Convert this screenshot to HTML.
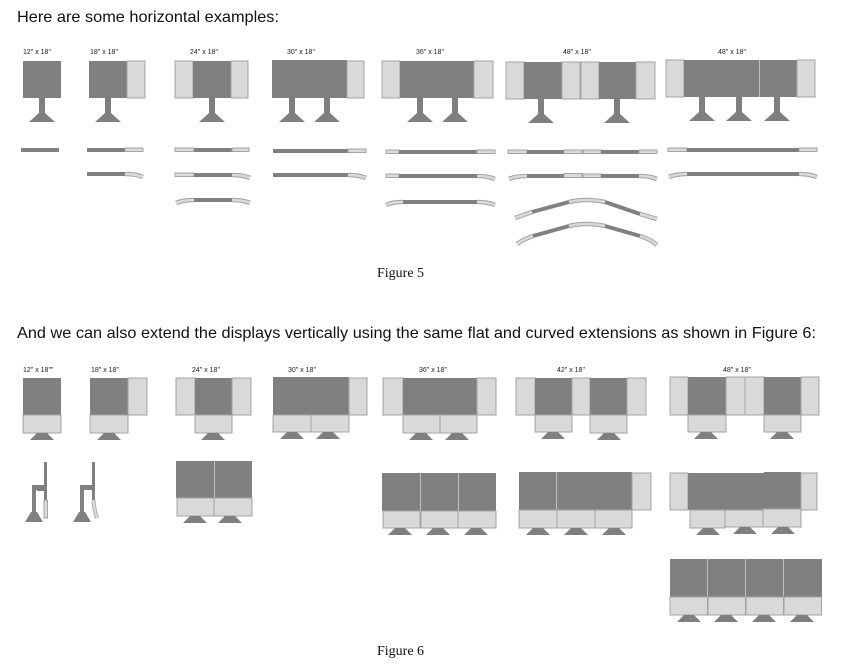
<!DOCTYPE html>
<html><head><meta charset="utf-8"><style>
html,body{margin:0;padding:0;background:#fff;}
svg{display:block;}
.d{fill:#808080;}
.l{fill:#d9d9d9;stroke:#a3a3a3;stroke-width:1;}
.t{fill:#7f7f7f;}
.co{fill:none;stroke:#a3a3a3;stroke-width:4.5;}
.ci{fill:none;stroke:#d9d9d9;stroke-width:2.6;}
.cd{fill:none;stroke:#808080;stroke-width:4;}
.lab{font-family:"Liberation Sans",sans-serif;font-size:7px;fill:#222;}
.h{font-family:"Liberation Sans",sans-serif;font-size:16px;fill:#111;}
.f{font-family:"Liberation Serif",serif;font-size:14px;fill:#111;}
</style></head><body>
<svg width="861" height="668" viewBox="0 0 861 668" xmlns="http://www.w3.org/2000/svg">
<defs>
<g id="ped"><rect x="-3" y="0" width="6" height="16" class="t"/><polygon points="-3,15 3,15 13,24 -13,24" class="t"/></g>
<polygon id="tr" points="-5,0 5,0 12,7 -12,7" class="t"/>
</defs>
<text x="17" y="22" class="h" textLength="262" lengthAdjust="spacingAndGlyphs">Here are some horizontal examples:</text>

<!-- Figure 5 labels -->
<text x="23" y="54" class="lab">12" x 18"</text>
<text x="90" y="54" class="lab">18" x 18"</text>
<text x="190" y="54" class="lab">24" x 18"</text>
<text x="287" y="54" class="lab">30" x 18"</text>
<text x="416" y="54" class="lab">36" x 18"</text>
<text x="563" y="54" class="lab">48" x 18"</text>
<text x="718" y="54" class="lab">48" x 18"</text>

<!-- 12 -->
<rect x="23" y="61" width="38" height="37" class="d"/>
<use href="#ped" x="42" y="98"/>
<!-- 18 -->
<rect x="89" y="61" width="38" height="37" class="d"/><rect x="127" y="61" width="18" height="37" class="l"/>
<use href="#ped" x="108" y="98"/>
<!-- 24 -->
<rect x="175" y="61" width="18" height="37" class="l"/><rect x="193" y="61" width="38" height="37" class="d"/><rect x="231" y="61" width="17" height="37" class="l"/>
<use href="#ped" x="212" y="98"/>
<!-- 30 -->
<rect x="272" y="60" width="75" height="38" class="d"/><rect x="347" y="61" width="17" height="37" class="l"/>
<use href="#ped" x="292" y="98"/><use href="#ped" x="327" y="98"/>
<!-- 36 -->
<rect x="382" y="61" width="18" height="37" class="l"/><rect x="400" y="61" width="74" height="37" class="d"/><rect x="474" y="61" width="19" height="37" class="l"/>
<use href="#ped" x="420" y="98"/><use href="#ped" x="455" y="98"/>
<!-- 48a -->
<rect x="506" y="62" width="18" height="37" class="l"/><rect x="524" y="62" width="38" height="37" class="d"/><rect x="562" y="62" width="18" height="37" class="l"/><rect x="581" y="62" width="18" height="37" class="l"/><rect x="599" y="62" width="37" height="37" class="d"/><rect x="636" y="62" width="19" height="37" class="l"/>
<use href="#ped" x="541" y="99"/><use href="#ped" x="617" y="99"/>
<!-- 48b -->
<rect x="666" y="60" width="18" height="37" class="l"/><rect x="684" y="60" width="75" height="37" class="d"/><rect x="759.5" y="60" width="37.5" height="37" class="d"/><rect x="797" y="60" width="18" height="37" class="l"/>
<use href="#ped" x="702" y="97"/><use href="#ped" x="739" y="97"/><use href="#ped" x="777" y="97"/>

<!-- lines row 1 (y=150) -->
<rect x="21" y="148" width="38" height="4" class="d"/>
<rect x="87" y="148" width="38" height="4" class="d"/><rect x="125" y="148" width="18" height="3.5" class="l"/>
<rect x="175" y="148" width="19" height="3.5" class="l"/><rect x="194" y="148" width="38" height="4" class="d"/><rect x="232" y="148" width="17" height="3.5" class="l"/>
<rect x="273" y="149" width="75" height="4" class="d"/><rect x="348" y="149" width="18" height="3.5" class="l"/>
<rect x="386" y="150" width="13" height="3.5" class="l"/><rect x="399" y="150" width="78" height="4" class="d"/><rect x="477" y="150" width="18" height="3.5" class="l"/>
<rect x="508" y="150" width="19" height="3.5" class="l"/><rect x="527" y="150" width="37" height="4" class="d"/><rect x="564" y="150" width="18" height="3.5" class="l"/><rect x="583" y="150" width="18" height="3.5" class="l"/><rect x="601" y="150" width="38" height="4" class="d"/><rect x="639" y="150" width="18" height="3.5" class="l"/>
<rect x="668" y="148" width="19" height="3.5" class="l"/><rect x="687" y="148" width="112" height="4" class="d"/><rect x="799" y="148" width="18" height="3.5" class="l"/>

<!-- lines row 2 (y=175) -->
<rect x="87" y="172" width="38" height="4" class="d"/>
<path d="M125,174 Q136,174 143,177" class="co"/><path d="M125,174 Q136,174 143,177" class="ci"/>
<rect x="175" y="173" width="19" height="3.5" class="l"/><rect x="194" y="173" width="38" height="4" class="d"/>
<path d="M232,175 Q243,175 250,178" class="co"/><path d="M232,175 Q243,175 250,178" class="ci"/>
<rect x="273" y="173" width="75" height="4" class="d"/>
<path d="M348,175 Q359,175 366,178" class="co"/><path d="M348,175 Q359,175 366,178" class="ci"/>
<rect x="386" y="174" width="13" height="3.5" class="l"/><rect x="399" y="174" width="78" height="4" class="d"/>
<path d="M477,176 Q488,176 495,179" class="co"/><path d="M477,176 Q488,176 495,179" class="ci"/>
<path d="M527,176 Q516,176 509,179" class="co"/><path d="M527,176 Q516,176 509,179" class="ci"/>
<rect x="527" y="174" width="37" height="4" class="d"/><rect x="564" y="173.5" width="18" height="4" class="l"/><rect x="583" y="174" width="18" height="3.5" class="l"/><rect x="601" y="174" width="38" height="4" class="d"/>
<path d="M639,176 Q650,176 657,179" class="co"/><path d="M639,176 Q650,176 657,179" class="ci"/>
<path d="M687,174 Q676,174 669,177" class="co"/><path d="M687,174 Q676,174 669,177" class="ci"/>
<rect x="687" y="172" width="112" height="4" class="d"/>
<path d="M799,174 Q810,174 817,177" class="co"/><path d="M799,174 Q810,174 817,177" class="ci"/>

<!-- lines row 3 (y=200) -->
<path d="M194,200 Q183,200 176,203" class="co"/><path d="M194,200 Q183,200 176,203" class="ci"/>
<rect x="194" y="198" width="38" height="4" class="d"/>
<path d="M232,200 Q243,200 250,203" class="co"/><path d="M232,200 Q243,200 250,203" class="ci"/>
<path d="M403,202 Q392,202 386,205" class="co"/><path d="M403,202 Q392,202 386,205" class="ci"/>
<rect x="403" y="200" width="74" height="4" class="d"/>
<path d="M477,202 Q488,202 495,205" class="co"/><path d="M477,202 Q488,202 495,205" class="ci"/>

<!-- arches -->
<g>
<path d="M515,218 L532,212" class="co"/><path d="M515,218 L532,212" class="ci"/>
<path d="M532,212 L569,202" class="cd"/>
<path d="M569,202 Q578,200 587,200 Q596,200 605,202" class="co"/><path d="M569,202 Q578,200 587,200 Q596,200 605,202" class="ci"/>
<path d="M605,202 L640,214" class="cd"/>
<path d="M640,214 L657,219" class="co"/><path d="M640,214 L657,219" class="ci"/>
</g>
<g>
<path d="M517,244 Q524,239 533,236" class="co"/><path d="M517,244 Q524,239 533,236" class="ci"/>
<path d="M533,236 L569,226" class="cd"/>
<path d="M569,226 Q578,224 587,224 Q596,224 605,226" class="co"/><path d="M569,226 Q578,224 587,224 Q596,224 605,226" class="ci"/>
<path d="M605,226 L640,236" class="cd"/>
<path d="M640,236 Q650,239 657,245" class="co"/><path d="M640,236 Q650,239 657,245" class="ci"/>
</g>

<text x="377" y="277" class="f">Figure 5</text>

<text x="17" y="338" class="h" textLength="799" lengthAdjust="spacingAndGlyphs">And we can also extend the displays vertically using the same flat and curved extensions as shown in Figure 6:</text>

<!-- Figure 6 labels -->
<text x="23" y="372" class="lab">12" x 18""</text>
<text x="91" y="372" class="lab">18" x 18"</text>
<text x="192" y="372" class="lab">24" x 18"</text>
<text x="288" y="372" class="lab">30" x 18"</text>
<text x="419" y="372" class="lab">36" x 18"</text>
<text x="557" y="372" class="lab">42" x 18"</text>
<text x="723" y="372" class="lab">48" x 18"</text>

<!-- 12 -->
<rect x="23" y="378" width="38" height="37" class="d"/><rect x="23" y="415" width="38" height="18" class="l"/>
<use href="#tr" x="42" y="433"/>
<!-- 18 -->
<rect x="90" y="378" width="38" height="37" class="d"/><rect x="128" y="378" width="19" height="37" class="l"/><rect x="90" y="415" width="38" height="18" class="l"/>
<use href="#tr" x="109" y="433"/>
<!-- 24 -->
<rect x="176" y="378" width="19" height="37" class="l"/><rect x="195" y="378" width="37" height="37" class="d"/><rect x="232" y="378" width="19" height="37" class="l"/><rect x="195" y="415" width="37" height="18" class="l"/>
<use href="#tr" x="213" y="433"/>
<!-- 30 -->
<rect x="273" y="377" width="76" height="38" class="d"/><rect x="349" y="378" width="18" height="37" class="l"/><rect x="273" y="415" width="38" height="17" class="l"/><rect x="311" y="415" width="38" height="17" class="l"/>
<use href="#tr" x="292" y="432"/><use href="#tr" x="328" y="432"/>
<!-- 36 -->
<rect x="383" y="378" width="20" height="37" class="l"/><rect x="403" y="378" width="74" height="37" class="d"/><rect x="477" y="378" width="19" height="37" class="l"/><rect x="403" y="415" width="37" height="18" class="l"/><rect x="440" y="415" width="37" height="18" class="l"/>
<use href="#tr" x="421" y="433"/><use href="#tr" x="457" y="433"/>
<!-- 42 -->
<rect x="516" y="378" width="19" height="37" class="l"/><rect x="535" y="378" width="37" height="37" class="d"/><rect x="572" y="378" width="18" height="37" class="l"/><rect x="590" y="378" width="37" height="37" class="d"/><rect x="627" y="378" width="19" height="37" class="l"/>
<rect x="535" y="415" width="37" height="17" class="l"/><rect x="590" y="415" width="37" height="18" class="l"/>
<use href="#tr" x="553" y="432"/><use href="#tr" x="609" y="433"/>
<!-- 48 -->
<rect x="670" y="377" width="18" height="38" class="l"/><rect x="688" y="377" width="38" height="38" class="d"/><rect x="726" y="377" width="19" height="38" class="l"/><rect x="745" y="377" width="19" height="38" class="l"/><rect x="764" y="377" width="37" height="38" class="d"/><rect x="801" y="377" width="18" height="38" class="l"/>
<rect x="688" y="415" width="38" height="17" class="l"/><rect x="764" y="415" width="37" height="17" class="l"/>
<use href="#tr" x="706" y="432"/><use href="#tr" x="782" y="432"/>

<!-- side views -->
<g>
<rect x="44" y="462" width="3" height="38" class="d"/>
<rect x="32" y="485" width="14" height="5" class="d"/>
<rect x="32" y="490" width="4" height="24" class="d"/>
<rect x="37" y="490" width="7" height="1" class="d"/>
<polygon points="31,512 37,512 43,522 25,522" class="t"/>
<rect x="44" y="500" width="3.5" height="18" class="l"/>
</g>
<g>
<rect x="92" y="462" width="3" height="38" class="d"/>
<rect x="80" y="485" width="14" height="5" class="d"/>
<rect x="80" y="490" width="4" height="24" class="d"/>
<polygon points="79,512 85,512 91,522 73,522" class="t"/>
<path d="M93.5,500 Q94,510 97,518" class="co" style="stroke-width:4"/><path d="M93.5,500 Q94,510 97,518" class="ci" style="stroke-width:2.4"/>
</g>

<!-- 24 row 2 -->
<rect x="176" y="461" width="38" height="37" class="d"/><rect x="214.5" y="461" width="37.5" height="37" class="d"/>
<rect x="177" y="498" width="37" height="18" class="l"/><rect x="214" y="498" width="38" height="18" class="l"/>
<use href="#tr" x="195" y="516"/><use href="#tr" x="230" y="516"/>

<!-- 36 row 2 -->
<rect x="382" y="473" width="38" height="38" class="d"/><rect x="420.5" y="473" width="37.5" height="38" class="d"/><rect x="458.5" y="473" width="37.5" height="38" class="d"/>
<rect x="383" y="511" width="37" height="17" class="l"/><rect x="421" y="511" width="37" height="17" class="l"/><rect x="458" y="511" width="38" height="17" class="l"/>
<use href="#tr" x="400" y="528"/><use href="#tr" x="438" y="528"/><use href="#tr" x="476" y="528"/>

<!-- 42 row 2 -->
<rect x="519" y="472" width="37" height="38" class="d"/><rect x="556.5" y="472" width="75.5" height="38" class="d"/><rect x="632" y="473" width="19" height="37" class="l"/>
<rect x="519" y="510" width="38" height="18" class="l"/><rect x="557" y="510" width="38" height="18" class="l"/><rect x="595" y="510" width="37" height="18" class="l"/>
<use href="#tr" x="538" y="528"/><use href="#tr" x="576" y="528"/><use href="#tr" x="614" y="528"/>

<!-- 48 row 2 -->
<rect x="670" y="473" width="18" height="37" class="l"/><rect x="688" y="473" width="76" height="37" class="d"/><rect x="764" y="472" width="37" height="37" class="d"/><rect x="801" y="473" width="16" height="37" class="l"/>
<rect x="690" y="510" width="35" height="18" class="l"/><rect x="725" y="510" width="38" height="17" class="l"/><rect x="763" y="509" width="38" height="18" class="l"/>
<use href="#tr" x="708" y="528"/><use href="#tr" x="745" y="527"/><use href="#tr" x="783" y="527"/>

<!-- 48 row 3 -->
<rect x="670" y="559" width="37.5" height="38" class="d"/><rect x="708" y="559" width="37.5" height="38" class="d"/><rect x="746" y="559" width="37.5" height="38" class="d"/><rect x="784" y="559" width="38" height="38" class="d"/>
<rect x="670" y="597" width="37.5" height="18" class="l"/><rect x="708" y="597" width="37.5" height="18" class="l"/><rect x="746" y="597" width="37.5" height="18" class="l"/><rect x="784" y="597" width="37.5" height="18" class="l"/>
<use href="#tr" x="689" y="615"/><use href="#tr" x="726" y="615"/><use href="#tr" x="764" y="615"/><use href="#tr" x="802" y="615"/>

<text x="377" y="655" class="f">Figure 6</text>
</svg>
</body></html>
